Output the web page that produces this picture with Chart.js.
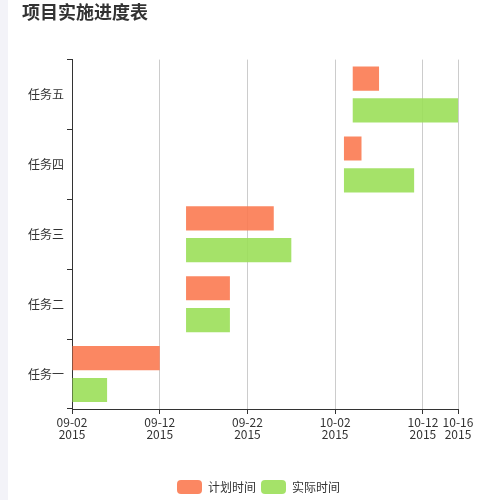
<!DOCTYPE html>
<html>
<head>
<meta charset="utf-8">
<script src="https://cdn.jsdelivr.net/npm/chart.js@4"></script>
<style>
  html, body { margin: 0; padding: 0; background: #fff; }
  #strip { position: absolute; left: 0; top: 0; width: 8px; height: 500px; background: #f3f3f8; }
  #wrap { position: absolute; left: 8px; top: 0; width: 492px; height: 500px; }
</style>
</head>
<body>
<div id="strip"></div>
<div id="wrap"><canvas id="gantt"></canvas></div>
<script>
(() => {
  'use strict'

  const tasks = ['任务一', '任务二', '任务三', '任务四', '任务五']
  const planStart = ['2015-09-02', '2015-09-15', '2015-09-15', '2015-10-03', '2015-10-04']
  const planEnd = ['2015-09-12', '2015-09-20', '2015-09-25', '2015-10-05', '2015-10-07']
  const actualStart = ['2015-09-02', '2015-09-15', '2015-09-15', '2015-10-03', '2015-10-04']
  const actualEnd = ['2015-09-06', '2015-09-20', '2015-09-27', '2015-10-11', '2015-10-16']
  const tickDates = ['2015-09-02', '2015-09-12', '2015-09-22', '2015-10-02', '2015-10-12', '2015-10-16']

  const DAY = 86400000
  const origin = Date.parse(tickDates[0])
  const toDay = s => (Date.parse(s) - origin) / DAY
  const fromDay = d => new Date(origin + d * DAY)
  const pad = n => String(n).padStart(2, '0')

  const font = '"Noto Sans CJK SC", "Noto Sans", sans-serif'

  const ctx = document.getElementById('gantt')
  // eslint-disable-next-line no-unused-vars
  const myChart = new Chart(ctx, {
    type: 'bar',
    data: {
      labels: tasks,
      datasets: [{
        label: '计划时间',
        data: planStart.map((s, i) => [toDay(s), toDay(planEnd[i])]),
        backgroundColor: 'rgba(251,122,81,0.9)',
        borderSkipped: false
      }, {
        label: '实际时间',
        data: actualStart.map((s, i) => [toDay(s), toDay(actualEnd[i])]),
        backgroundColor: 'rgba(155,223,89,0.9)',
        borderSkipped: false
      }]
    },
    options: {
      indexAxis: 'y',
      responsive: true,
      maintainAspectRatio: false,
      animation: false,
      categoryPercentage: 0.91,
      barPercentage: 0.76,
      layout: { padding: { left: 14, right: 5, top: 0, bottom: -4 } },
      scales: {
        x: {
          type: 'linear',
          min: toDay(tickDates[0]),
          max: toDay(tickDates[tickDates.length - 1]),
          afterBuildTicks: scale => {
            scale.ticks = tickDates.map(d => ({ value: toDay(d) }))
          },
          afterFit: scale => { scale.height = 66 },
          grid: { color: '#cccccc', tickColor: '#333', tickLength: 5 },
          border: { color: '#333' },
          ticks: {
            autoSkip: false,
            maxRotation: 0,
            padding: 2,
            color: '#333',
            font: { family: font, size: 12, lineHeight: 1.0 },
            callback: v => {
              const d = fromDay(v)
              return [pad(d.getUTCMonth() + 1) + '-' + pad(d.getUTCDate()), String(d.getUTCFullYear())]
            }
          }
        },
        y: {
          reverse: true,
          afterFit: scale => { scale.width = 50 },
          grid: { offset: true, drawOnChartArea: false, color: '#333', tickLength: 5 },
          border: { color: '#333' },
          ticks: { padding: 3, color: '#333', font: { family: font, size: 12 } }
        },
        // empty right-hand gutter so the plot ends where the reference does
        gutter: {
          type: 'category',
          axis: 'y',
          position: 'right',
          afterFit: scale => { scale.width = 37 },
          grid: { display: false },
          border: { display: false },
          ticks: { display: false }
        }
      },
      plugins: {
        title: {
          display: true,
          text: '项目实施进度表',
          align: 'start',
          color: '#333',
          font: { family: font, size: 18, weight: 'bold', lineHeight: 1.2 },
          padding: { top: 1, bottom: 37 }
        },
        legend: {
          display: true,
          position: 'bottom',
          labels: {
            boxWidth: 25,
            boxHeight: 14,
            useBorderRadius: true,
            borderRadius: 4,
            padding: 5,
            color: '#333',
            font: { family: font, size: 12 }
          }
        },
        tooltip: { enabled: false }
      }
    }
  })
})()
</script>
</body>
</html>
